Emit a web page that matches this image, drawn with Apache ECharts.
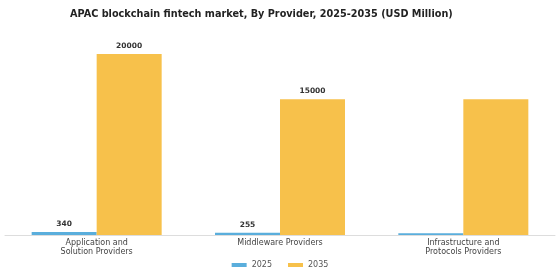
<!DOCTYPE html>
<html>
<head>
<meta charset="utf-8">
<script src="https://cdn.jsdelivr.net/npm/echarts@6/dist/echarts.min.js"></script>
<style>html,body{margin:0;padding:0;background:#fff;}#c{width:560px;height:280px;}</style>
</head>
<body>
<div id="c"></div>
<script>
const categories = ["Application and\nSolution Providers", "Middleware Providers", "Infrastructure and\nProtocols Providers"];
const values2025 = [340, 255, 200];
const values2035 = [20000, 15000, 15000];
const showLabel2025 = [true, true, false];
const showLabel2035 = [true, true, false];

const chart = echarts.init(document.getElementById('c'), null, {renderer: 'canvas'});
const font = 'DejaVu Sans';
function mk(vals, shows) {
  return vals.map((v, i) => ({value: v, label: {show: shows[i]}}));
}
chart.setOption({
  animation: false,
  title: {
    text: 'APAC blockchain fintech market, By Provider, 2025-2035 (USD Million)',
    left: 65, top: 4,
    textStyle: {fontFamily: font, fontSize: 9.7, fontWeight: 'bold', color: '#222'}
  },
  legend: {
    bottom: 6, left: 'center',
    itemWidth: 15, itemHeight: 4, itemGap: 16,
    icon: 'rect',
    textStyle: {fontFamily: font, fontSize: 8, color: '#555'},
    data: ['2025', '2035']
  },
  grid: {left: 5, right: 5, top: 54, bottom: 45, containLabel: false},
  xAxis: {
    type: 'category', data: categories,
    axisLine: {lineStyle: {color: '#ddd', width: 1}},
    axisTick: {show: false},
    axisLabel: {fontFamily: font, fontSize: 8, color: '#444', lineHeight: 9, margin: 3}
  },
  yAxis: {type: 'value', min: 0, max: 20000, show: false, splitLine: {show: false}},
  series: [
    {name: '2025', type: 'bar', data: mk(values2025, showLabel2025), barWidth: 65, barGap: '0%',
     itemStyle: {color: '#5aaedc'},
     label: {position: 'top', distance: 4, fontFamily: font, fontSize: 7.5, fontWeight: 'bold', color: '#333'}},
    {name: '2035', type: 'bar', data: mk(values2035, showLabel2035), barWidth: 65,
     itemStyle: {color: '#f7c14b'},
     label: {position: 'top', distance: 4, fontFamily: font, fontSize: 7.5, fontWeight: 'bold', color: '#333'}}
  ]
});
</script>
</body>
</html>
